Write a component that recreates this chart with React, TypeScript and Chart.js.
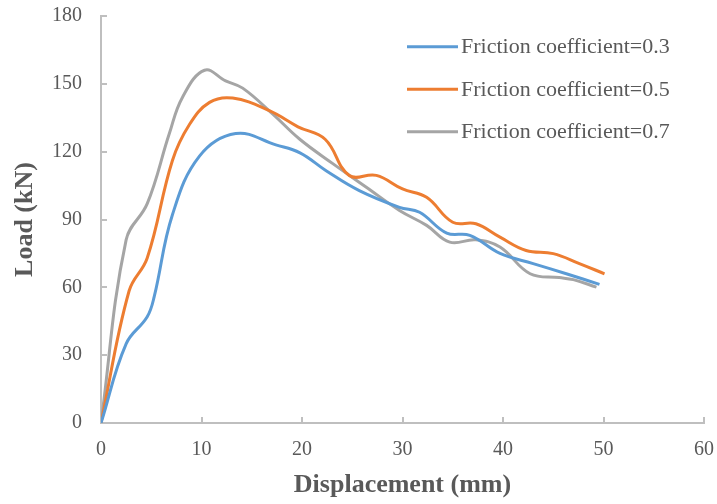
import React, { useEffect, useRef } from "react";
import { Chart, registerables } from "chart.js";

Chart.register(...registerables);

// ---- Data (Displacement in mm, Load in kN) ----
const seriesLabels = [
  "Friction coefficient=0.3",
  "Friction coefficient=0.5",
  "Friction coefficient=0.7",
];
const seriesColors = ["#5B9BD5", "#ED7D31", "#A5A5A5"];

const disp03 = [0, 2.5, 4.6, 5.3, 7.1, 9.8, 13.4, 17.4, 19.8, 22.4, 25.7, 29.7, 31.7, 34.4, 36.7, 39.7, 43.0, 46.3, 49.6];
const load03 = [0, 35, 47, 56, 92, 118, 128, 123, 119.5, 111.6, 102.8, 95.4, 93.2, 84, 83, 75, 70.5, 66, 61.3];

const disp05 = [0, 2.8, 4.6, 7.1, 8.8, 10.8, 13.1, 16.8, 19.6, 22.3, 24.7, 27.4, 30.0, 32.4, 35.0, 37.3, 39.7, 42.3, 45.0, 47.6, 50.1];
const load05 = [0, 58.5, 73, 116, 132, 141.8, 143.7, 138, 131, 125.5, 109.5, 109.5, 103.5, 99.8, 88.8, 88.1, 82.2, 76.3, 74.9, 70.5, 66];

const disp07 = [0, 2.5, 4.6, 6.8, 8.1, 10.3, 12.4, 14.1, 17.1, 19.75, 23.1, 26.4, 29.7, 32.4, 34.7, 37.3, 39.7, 42.7, 45.6, 47.0, 49.3];
const load07 = [0, 81, 97, 128, 144, 156, 151.3, 148.1, 136.6, 125.6, 114.6, 104.3, 94, 87.4, 80, 81, 77.8, 66, 64.3, 63.4, 60.1];

const xTicks = [0, 10, 20, 30, 40, 50, 60];
const yTicks = [0, 30, 60, 90, 120, 150, 180];

const FONT = "'Times New Roman', 'Liberation Serif', serif";
const TEXT = "#595959";
const AXIS = "#BFBFBF";

const toPoints = (xs: number[], ys: number[]) => xs.map((x, i) => ({ x, y: ys[i] }));

const insideTicks = {
  id: "insideTicks",
  afterDatasetsDraw(chart: any) {
    const { ctx, chartArea, scales } = chart;
    ctx.save();
    ctx.strokeStyle = AXIS;
    ctx.lineWidth = 2;
    ctx.beginPath();
    for (const v of xTicks) {
      if (v === 0) continue;
      const px = Math.round(scales.x.getPixelForValue(v));
      ctx.moveTo(px, chartArea.bottom);
      ctx.lineTo(px, chartArea.bottom - 6);
    }
    for (const v of yTicks) {
      if (v === 0) continue;
      const py = Math.round(scales.y.getPixelForValue(v));
      ctx.moveTo(chartArea.left, py);
      ctx.lineTo(chartArea.left + 6, py);
    }
    ctx.stroke();
    ctx.restore();
  },
};

const insideLegend = {
  id: "insideLegend",
  afterDraw(chart: any) {
    const { ctx } = chart;
    ctx.save();
    chart.data.datasets.forEach((ds: any, i: number) => {
      const y = 46.7 + i * 42.5;
      ctx.strokeStyle = ds.borderColor;
      ctx.lineWidth = 3;
      ctx.beginPath();
      ctx.moveTo(407, y);
      ctx.lineTo(458, y);
      ctx.stroke();
      ctx.fillStyle = TEXT;
      ctx.font = `22px ${FONT}`;
      ctx.textBaseline = "middle";
      ctx.textAlign = "left";
      ctx.fillText(ds.label, 461, y + 1);
    });
    ctx.restore();
  },
};

export default function App() {
  const ref = useRef<HTMLCanvasElement | null>(null);

  useEffect(() => {
    if (!ref.current) return;
    const allX = [disp03, disp05, disp07];
    const allY = [load03, load05, load07];
    const chart = new Chart(ref.current, {
      type: "line",
      data: {
        datasets: seriesLabels.map((label, i) => ({
          label,
          data: toPoints(allX[i], allY[i]),
          borderColor: seriesColors[i],
          backgroundColor: seriesColors[i],
          borderWidth: 3,
          pointRadius: 0,
          tension: 0.4,
          fill: false,
        })),
      },
      options: {
        responsive: false,
        animation: false,
        devicePixelRatio: 1,
        layout: { padding: { top: 16, right: 13, left: 0, bottom: 0 } },
        plugins: {
          legend: { display: false },
          tooltip: { enabled: false },
        },
        scales: {
          x: {
            type: "linear",
            min: 0,
            max: 60,
            afterBuildTicks: (scale: any) => {
              scale.ticks = xTicks.map((v) => ({ value: v }));
            },
            afterFit: (scale: any) => {
              scale.height = 81;
              scale.paddingLeft = 0;
              scale.paddingRight = 0;
            },
            grid: { display: false, drawTicks: false },
            border: { display: true, color: AXIS, width: 2 },
            ticks: {
              color: TEXT,
              font: { family: FONT, size: 20 },
              padding: 15,
              maxRotation: 0,
            },
            title: {
              display: true,
              text: "Displacement (mm)",
              color: TEXT,
              font: { family: FONT, size: 26, weight: "bold" },
              padding: { top: 0, bottom: 3 },
            },
          },
          y: {
            type: "linear",
            min: 0,
            max: 180,
            afterBuildTicks: (scale: any) => {
              scale.ticks = yTicks.map((v) => ({ value: v }));
            },
            afterFit: (scale: any) => {
              scale.width = 101;
              scale.paddingTop = 0;
              scale.paddingBottom = 0;
            },
            grid: { display: false, drawTicks: false },
            border: { display: true, color: AXIS, width: 2 },
            ticks: {
              color: TEXT,
              font: { family: FONT, size: 20 },
              padding: 19,
            },
            title: {
              display: true,
              text: "Load (kN)",
              color: TEXT,
              font: { family: FONT, size: 26, weight: "bold" },
              padding: { top: 10, bottom: 0 },
            },
          },
        },
      },
      plugins: [insideTicks, insideLegend],
    });
    return () => chart.destroy();
  }, []);

  return (
    <div style={{ position: "absolute", left: 0, top: 0, width: 717, height: 504, background: "#fff" }}>
      <canvas ref={ref} width={717} height={504} style={{ width: 717, height: 504, display: "block" }} />
    </div>
  );
}
